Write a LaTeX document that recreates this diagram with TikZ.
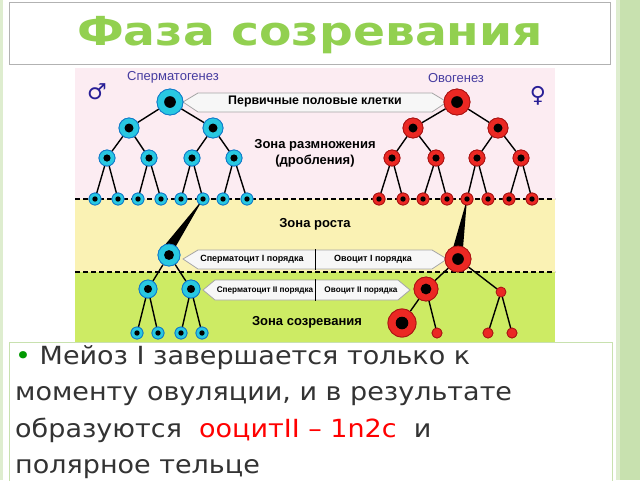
\documentclass[tikz,border=0pt]{standalone}
\usepackage{fontspec}
\setmainfont{DejaVu Sans}
\newfontfamily\lib{Liberation Sans}
\definecolor{cyanc}{RGB}{40,200,225}
\definecolor{redc}{RGB}{235,40,35}
\definecolor{redd}{RGB}{170,20,20}
\definecolor{sideg}{RGB}{200,225,175}
\definecolor{titleg}{RGB}{146,208,80}
\definecolor{pinkz}{RGB}{252,236,242}
\definecolor{yelz}{RGB}{250,242,180}
\definecolor{grnz}{RGB}{205,235,100}
\definecolor{purp}{RGB}{70,60,160}
\definecolor{sym}{RGB}{40,30,150}
\begin{document}
\begin{tikzpicture}[x=1pt,y=-1pt,
 bc/.style={circle,draw=cyan!60!blue,line width=0.8pt,fill=cyanc,inner sep=0pt,minimum size=#1},
 rc/.style={circle,draw=redd,line width=0.8pt,fill=redc,inner sep=0pt,minimum size=#1},
 core/.style={circle,fill=black,inner sep=0pt,minimum size=#1},
 ed/.style={line width=1.4pt,black},
 banner/.style={draw=gray!70,fill=gray!6,line width=0.8pt},
 lbl/.style={text=black}]
\useasboundingbox (0,0) rectangle (640,480);
\fill[sideg!60] (0,0) rectangle (640,480);
\fill[white] (3,0) rectangle (616,480);
\fill[sideg] (620,0) rectangle (640,480);
% title
\draw[gray!60,line width=1pt,fill=white] (9,2) rectangle (610,64);
\node[font=\bfseries\fontsize{40}{42}\selectfont,text=titleg,xscale=1.18] (title) at (310,35) {Фаза созревания};
% zones
\fill[pinkz] (75,68) rectangle (555,199);
\fill[yelz] (75,199) rectangle (555,272);
\fill[grnz] (75,272) rectangle (555,342);
\draw[line width=1.3pt,dash pattern=on 5pt off 3pt] (75,199) -- (555,199) (75,272) -- (555,272);
% labels
\node[font=\lib\fontsize{13}{14}\selectfont,text=purp] (sg) at (173,77) {Сперматогенез};
\node[font=\lib\fontsize{13}{14}\selectfont,text=purp] (og) at (456,78) {Овогенез};
\node[font=\fontsize{22}{22}\selectfont\bfseries,text=sym] (male) at (97,92) {♂};
\node[font=\fontsize{22}{22}\selectfont\bfseries,text=sym] (female) at (538,96) {♀};
% banners
\draw[banner] (183,102) -- (198,93) -- (432,93) -- (447,102) -- (432,112) -- (198,112) -- cycle;
\node[lbl,font=\lib\bfseries\fontsize{12.4}{14}\selectfont] (b1) at (315,102) {Первичные половые клетки};
\draw[banner] (183,259) -- (198,250) -- (432,250) -- (447,259) -- (432,269) -- (198,269) -- cycle;
\draw[line width=1pt] (315,249) -- (315,270);
\node[lbl,font=\lib\bfseries\fontsize{9}{10}\selectfont] (b2a) at (252,259) {Сперматоцит I порядка};
\node[lbl,font=\lib\bfseries\fontsize{9}{10}\selectfont] (b2b) at (373,259) {Овоцит I порядка};
\draw[banner] (203,290) -- (215,280) -- (398,280) -- (410,290) -- (398,300) -- (215,300) -- cycle;
\draw[line width=1pt] (315,279) -- (315,301);
\node[lbl,font=\lib\bfseries\fontsize{8.2}{9}\selectfont] (b3a) at (265,290) {Сперматоцит II порядка};
\node[lbl,font=\lib\bfseries\fontsize{8.2}{9}\selectfont] (b3b) at (361,290) {Овоцит II порядка};
\node[lbl,font=\lib\bfseries\fontsize{13}{16}\selectfont,align=center] (z1) at (315,153) {Зона размножения\\(дробления)};
\node[lbl,font=\lib\bfseries\fontsize{13}{15}\selectfont] (z2) at (315,224) {Зона роста};
\node[lbl,font=\lib\bfseries\fontsize{13}{15}\selectfont] (z3) at (307,322) {Зона созревания};
% blue tree
\node[bc=26pt] (s0) at (170,102) {};
\node[bc=20pt] (s1) at (129,128) {}; \node[bc=20pt] (s2) at (213,128) {};
\foreach \i/\x in {1/107,2/149,3/192,4/234} \node[bc=16pt] (t\i) at (\x,158) {};
\foreach \i/\x in {1/95,2/118,3/138,4/161,5/181,6/203,7/223,8/247} \node[bc=12pt] (u\i) at (\x,199) {};
\node[bc=22pt] (sI) at (169,255) {};
\node[bc=18pt] (sa) at (148,289) {}; \node[bc=18pt] (sb) at (191,289) {};
\foreach \i/\x in {1/137,2/158,3/181,4/202} \node[bc=12pt] (v\i) at (\x,333) {};
% red tree
\node[rc=26pt] (r0) at (457,102) {};
\node[rc=20pt] (r1) at (413,128) {}; \node[rc=20pt] (r2) at (498,128) {};
\foreach \i/\x in {1/392,2/436,3/477,4/521} \node[rc=16pt] (q\i) at (\x,158) {};
\foreach \i/\x in {1/379,2/403,3/423,4/447,5/467,6/488,7/509,8/532} \node[rc=12pt] (p\i) at (\x,199) {};
\node[rc=26pt] (oI) at (458,259) {};
\node[rc=24pt] (oII) at (426,289) {};
\node[rc=9pt] (pb) at (501,292) {};
\node[rc=28pt] (ot) at (402,323) {};
\foreach \n/\x in {pa/437,pc/488,pd/512} \node[rc=10pt] (\n) at (\x,333) {};
% edges
\draw[ed] (s0)--(s1) (s0)--(s2) (s1)--(t1) (s1)--(t2) (s2)--(t3) (s2)--(t4)
 (t1)--(u1) (t1)--(u2) (t2)--(u3) (t2)--(u4) (t3)--(u5) (t3)--(u6) (t4)--(u7) (t4)--(u8)
 (sI)--(sa) (sI)--(sb) (sa)--(v1) (sa)--(v2) (sb)--(v3) (sb)--(v4);
\draw[ed] (r0)--(r1) (r0)--(r2) (r1)--(q1) (r1)--(q2) (r2)--(q3) (r2)--(q4)
 (q1)--(p1) (q1)--(p2) (q2)--(p3) (q2)--(p4) (q3)--(p5) (q3)--(p6) (q4)--(p7) (q4)--(p8)
 (oI)--(oII) (oI)--(pb) (oII)--(ot) (oII)--(pa) (pb)--(pc) (pb)--(pd);
\fill[black] (u6.center) -- (176,246) -- (164,246) -- cycle;
\fill[black] (p5.center) -- (463,248) -- (453,248) -- cycle;
% redraw cells on top
\foreach \n/\s in {s0/26,s1/20,s2/20,t1/16,t2/16,t3/16,t4/16,u1/12,u2/12,u3/12,u4/12,u5/12,u6/12,u7/12,u8/12,sI/22,sa/18,sb/18,v1/12,v2/12,v3/12,v4/12}
 {\node[bc=\s pt] at (\n) {}; \node[core=0.45*\s pt] at (\n) {};}
\foreach \n/\s in {r0/26,r1/20,r2/20,q1/16,q2/16,q3/16,q4/16,p1/12,p2/12,p3/12,p4/12,p5/12,p6/12,p7/12,p8/12,oI/26,oII/24,ot/28}
 {\node[rc=\s pt] at (\n) {}; \node[core=0.45*\s pt] at (\n) {};}
\foreach \n in {pb,pa,pc,pd} \node[rc=10pt] at (\n) {};
% bottom text box
\draw[sideg,line width=1pt,fill=white] (9,342) rectangle (612,482);
\node[anchor=north west,align=left,font=\fontsize{25}{36.5}\selectfont,text=black!80,inner sep=0pt,xscale=1.08] (txt) at (15,345)
 {{\color{green!60!black}\textbullet}\ Мейоз I завершается только к\\
 моменту овуляции, и в результате\\
 образуются \ {\color{red}ооцитII – 1n2c} \ и\\
 полярное тельце};
\end{tikzpicture}
\end{document}
